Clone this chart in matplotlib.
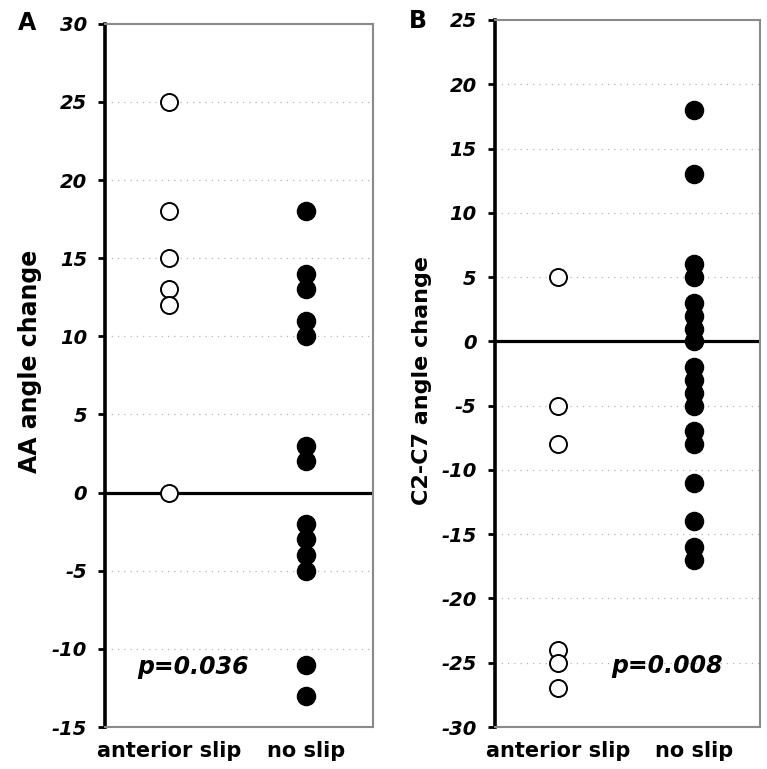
import matplotlib
matplotlib.use("Agg")
import matplotlib.pyplot as plt
import numpy as np

plt.rcParams['font.family'] = ['DejaVu Sans']

categories = ["anterior slip", "no slip"]

# Panel A: AA angle change
a_anterior = [25, 18, 15, 13, 12, 0]
a_noslip = [18, 14, 13, 11, 10, 3, 2, -2, -3, -4, -5, -11, -13]
a_ticks = [30, 25, 20, 15, 10, 5, 0, -5, -10, -15]
a_pvalue = "p=0.036"

# Panel B: C2-C7 angle change
b_anterior = [5, -5, -8, -24, -25, -27]
b_noslip = [18, 13, 6, 5, 3, 2, 1, 0, -2, -3, -4, -5, -7, -8, -11, -14, -16, -17]
b_ticks = [25, 20, 15, 10, 5, 0, -5, -10, -15, -20, -25, -30]
b_pvalue = "p=0.008"

fig = plt.figure(figsize=(7.67, 7.69), dpi=100)
axA = fig.add_axes([0.137, 0.0546, 0.349, 0.9144])
axB = fig.add_axes([0.645, 0.0546, 0.346, 0.9194])


def draw(ax, anterior, noslip, ticks, ylabel, ylab_size, ylab_pos, pval, pxy,
         letter, letter_xy):
    lo, hi = min(ticks), max(ticks)
    ax.set_xlim(-0.47, 1.49)
    ax.set_ylim(lo, hi)
    for t in ticks:
        if t not in (lo, hi, 0):
            ax.axhline(t, color='#b5b5b5', lw=0.9, ls=(0, (1, 4)), zorder=1)
    ax.axhline(0, color='black', lw=2.3, zorder=2)
    ax.scatter(np.zeros(len(anterior)), anterior, s=150, facecolor='white',
               edgecolor='black', linewidths=1.4, zorder=3)
    ax.scatter(np.ones(len(noslip)), noslip, s=170, facecolor='black',
               edgecolor='black', linewidths=1.0, zorder=3)
    ax.set_yticks(ticks)
    ax.set_yticklabels([str(t) for t in ticks], fontsize=14,
                       fontweight='bold', fontstyle='italic')
    ax.set_xticks([0, 1])
    ax.set_xticklabels(categories, fontsize=15, fontweight='bold')
    ax.tick_params(axis='x', length=0, pad=10)
    ax.tick_params(axis='y', direction='out', length=5, width=2, pad=8)
    for s in ['top', 'right', 'bottom']:
        ax.spines[s].set_color('#8a8a8a')
        ax.spines[s].set_linewidth(1.5)
    ax.spines['left'].set_color('black')
    ax.spines['left'].set_linewidth(2.6)
    ax.set_ylabel(ylabel, fontsize=ylab_size, fontweight='bold')
    ax.yaxis.set_label_coords(ylab_pos[0], ylab_pos[1])
    ax.text(pxy[0], pxy[1], pval, transform=ax.transAxes, ha='center', va='center',
            fontsize=17, fontweight='bold', fontstyle='italic')
    fig.text(letter_xy[0], letter_xy[1], letter, ha='center', va='center',
             fontsize=17, fontweight='bold')


draw(axA, a_anterior, a_noslip, a_ticks, "AA angle change", 17, (-0.235, 0.52),
     a_pvalue, (0.33, 0.085), "A", (27 / 767, 1 - 23 / 769))
draw(axB, b_anterior, b_noslip, b_ticks, "C2-C7 angle change", 16, (-0.238, 0.49),
     b_pvalue, (0.65, 0.087), "B", (418 / 767, 1 - 21 / 769))

fig.savefig("out.png", dpi=100)
